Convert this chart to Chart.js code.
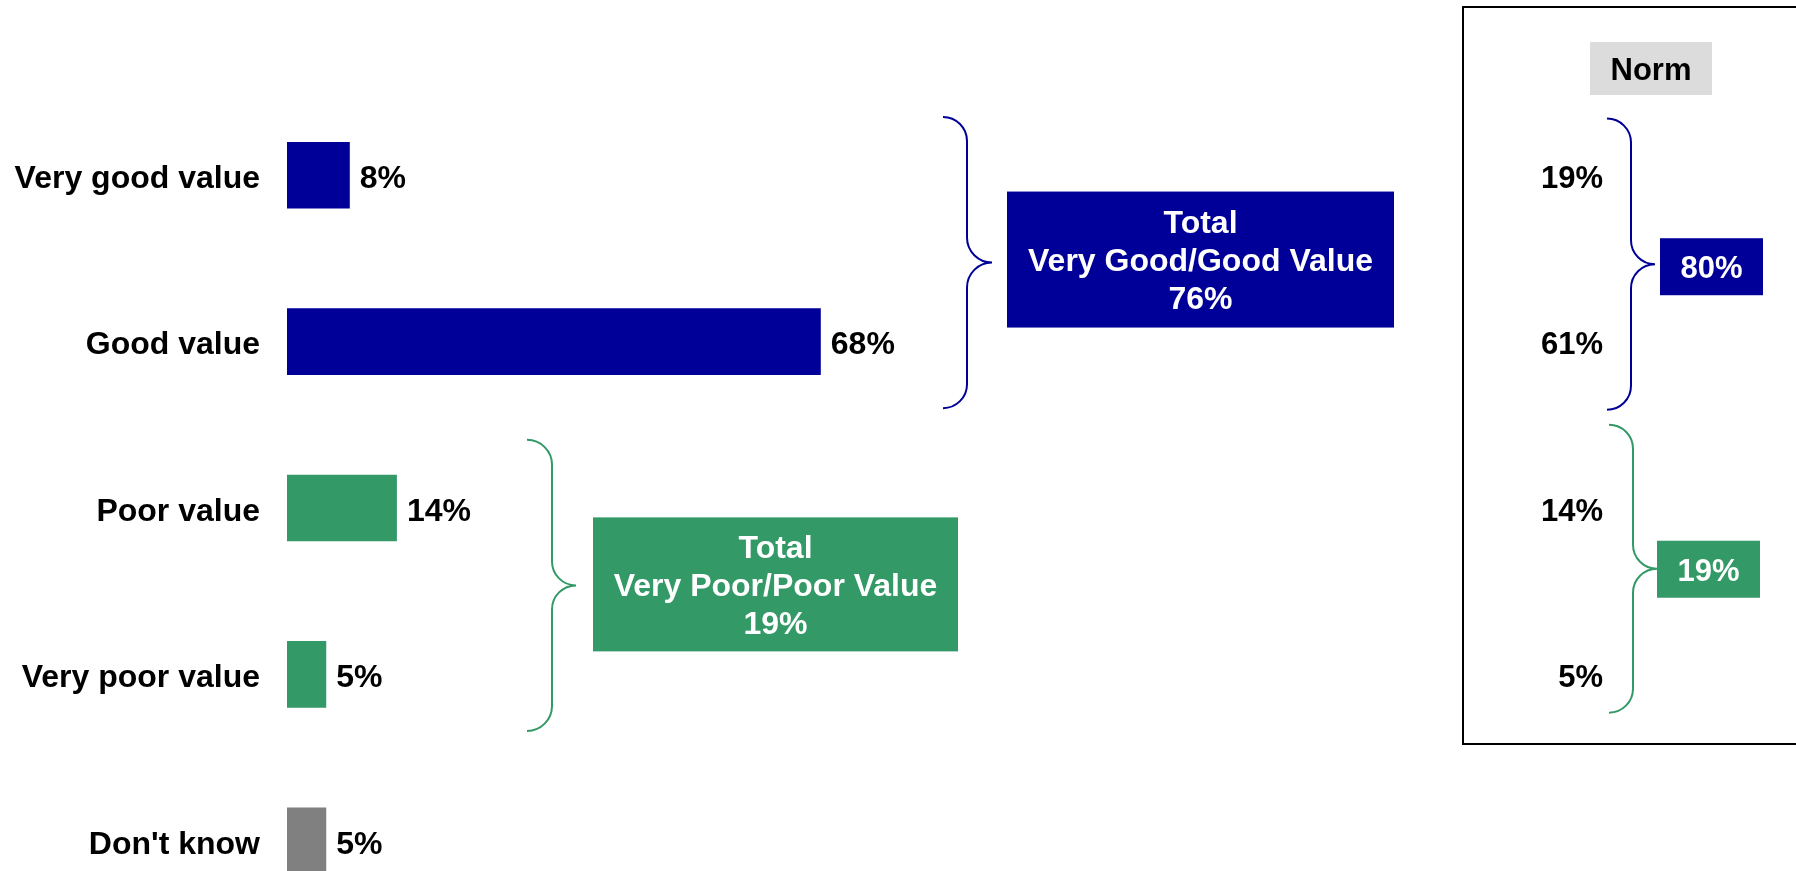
<!DOCTYPE html>
<html>
<head>
<meta charset="utf-8">
<script src="https://cdn.jsdelivr.net/npm/chart.js@4"></script>
<style>
  html, body { margin: 0; padding: 0; background: #fff; overflow: hidden; }
  canvas { display: block; }
</style>
</head>
<body>
<canvas id="c" width="1796" height="940"></canvas>
<script>
// Survey answers: share of respondents per rating
const categories = ['Very good value', 'Good value', 'Poor value', 'Very poor value', "Don't know"];
const values = [8, 68, 14, 5, 5];

// Net scores shown next to the braces
const groupTitles = ['Very Good/Good Value', 'Very Poor/Poor Value'];
const groupTotals = [76, 19];

// Benchmark (norm) figures for the first four ratings and their nets
const normValues = [19, 61, 14, 5];
const normTotals = [80, 19];

const BLUE = '#000099';
const GREEN = '#339966';
const GREY = '#808080';
const FONT = "'Liberation Sans', Arial, Helvetica, sans-serif";
const barColors = [BLUE, BLUE, GREEN, GREEN, GREY];

// Curly brace opening to the right: x0 = free ends, xm = spine, xt = tip
function brace(ctx, x0, xm, xt, top, mid, bottom, color) {
  const r = xm - x0;
  ctx.save();
  ctx.strokeStyle = color;
  ctx.lineWidth = 2;
  ctx.beginPath();
  ctx.moveTo(x0, top);
  ctx.arcTo(xm, top, xm, top + r, r);
  ctx.lineTo(xm, mid - r);
  ctx.arcTo(xm, mid, xt, mid, xt - xm);
  ctx.moveTo(xt, mid);
  ctx.arcTo(xm, mid, xm, mid + r, xt - xm);
  ctx.lineTo(xm, bottom - r);
  ctx.arcTo(xm, bottom, x0, bottom, r);
  ctx.stroke();
  ctx.restore();
}

function textBox(ctx, x1, y1, x2, y2, fill, lines, size, lineGap) {
  ctx.save();
  ctx.fillStyle = fill;
  ctx.fillRect(x1, y1, x2 - x1, y2 - y1);
  ctx.fillStyle = '#fff';
  ctx.font = `bold ${size}px ${FONT}`;
  ctx.textAlign = 'center';
  ctx.textBaseline = 'middle';
  const cx = (x1 + x2) / 2, cy = (y1 + y2) / 2 + 3;
  lines.forEach((t, i) => {
    ctx.fillText(t, cx, cy + (i - (lines.length - 1) / 2) * lineGap);
  });
  ctx.restore();
}

const annotations = {
  id: 'annotations',
  afterDatasetsDraw(chart) {
    const ctx = chart.ctx;
    const meta = chart.getDatasetMeta(0);
    ctx.save();
    ctx.fillStyle = '#000';
    ctx.font = `bold 32px ${FONT}`;
    ctx.textAlign = 'left';
    ctx.textBaseline = 'middle';
    meta.data.forEach((bar, i) => {
      ctx.fillText(values[i] + '%', bar.x + 10, bar.y + 4);
    });
    ctx.restore();
  },
  afterDraw(chart) {
    const ctx = chart.ctx;
    const y = chart.scales.y;
    const row = i => y.getPixelForValue(i);
    const step = row(1) - row(0);

    // Net: very good + good
    const bTop = row(0) - 0.35 * step, bBot = row(1) + 0.4 * step, bMid = (bTop + bBot) / 2;
    brace(ctx, 943, 967, 992, bTop, bMid, bBot, BLUE);
    textBox(ctx, 1007, bMid - 71, 1394, bMid + 65, BLUE,
      ['Total', groupTitles[0], groupTotals[0] + '%'], 32, 38);

    // Net: very poor + poor
    const gTop = row(2) - 0.41 * step, gBot = row(3) + 0.34 * step, gMid = (gTop + gBot) / 2;
    brace(ctx, 527, 552, 576, gTop, gMid, gBot, GREEN);
    textBox(ctx, 593, gMid - 68, 958, gMid + 66, GREEN,
      ['Total', groupTitles[1], groupTotals[1] + '%'], 32, 38);

    // Norm panel
    ctx.save();
    ctx.strokeStyle = '#000';
    ctx.lineWidth = 2;
    ctx.strokeRect(1463, 7, 400, 737);
    ctx.fillStyle = '#dcdcdc';
    ctx.fillRect(1590, 42, 122, 53);
    ctx.fillStyle = '#000';
    ctx.font = `bold 31px ${FONT}`;
    ctx.textAlign = 'center';
    ctx.textBaseline = 'middle';
    ctx.fillText('Norm', 1651, 71);
    ctx.textAlign = 'right';
    normValues.forEach((v, i) => ctx.fillText(v + '%', 1603, row(i) + 4));
    ctx.restore();

    const nbTop = row(0) - 0.34 * step, nbBot = row(1) + 0.41 * step, nbMid = (nbTop + nbBot) / 2;
    brace(ctx, 1607, 1631, 1655, nbTop, nbMid, nbBot, BLUE);
    textBox(ctx, 1660, nbMid - 26, 1763, nbMid + 31, BLUE, [normTotals[0] + '%'], 31, 38);

    const ngTop = row(2) - 0.5 * step, ngBot = row(3) + 0.23 * step, ngMid = (ngTop + ngBot) / 2;
    brace(ctx, 1609, 1633, 1657, ngTop, ngMid, ngBot, GREEN);
    textBox(ctx, 1657, ngMid - 28, 1760, ngMid + 29, GREEN, [normTotals[1] + '%'], 31, 38);
  }
};

new Chart(document.getElementById('c'), {
  type: 'bar',
  data: {
    labels: categories,
    datasets: [{
      data: values,
      backgroundColor: barColors,
      barPercentage: 0.4,
      categoryPercentage: 1
    }]
  },
  options: {
    indexAxis: 'y',
    responsive: false,
    animation: false,
    devicePixelRatio: 1,
    layout: { padding: { left: 0, right: 724, top: 92, bottom: 16 } },
    plugins: { legend: { display: false }, tooltip: { enabled: false } },
    scales: {
      x: { display: false, min: 0, max: 100 },
      y: {
        grid: { display: false, drawTicks: false },
        border: { display: false },
        ticks: {
          color: '#000',
          padding: 27,
          labelOffset: 4,
          font: { family: FONT, size: 32, weight: 'bold' }
        },
        afterFit(scale) {
          // fixed gutter for the rating names; bands run edge to edge of the plot
          scale.width = 287;
          scale.paddingTop = 0;
          scale.paddingBottom = 0;
        }
      }
    }
  },
  plugins: [annotations]
});
</script>
</body>
</html>
